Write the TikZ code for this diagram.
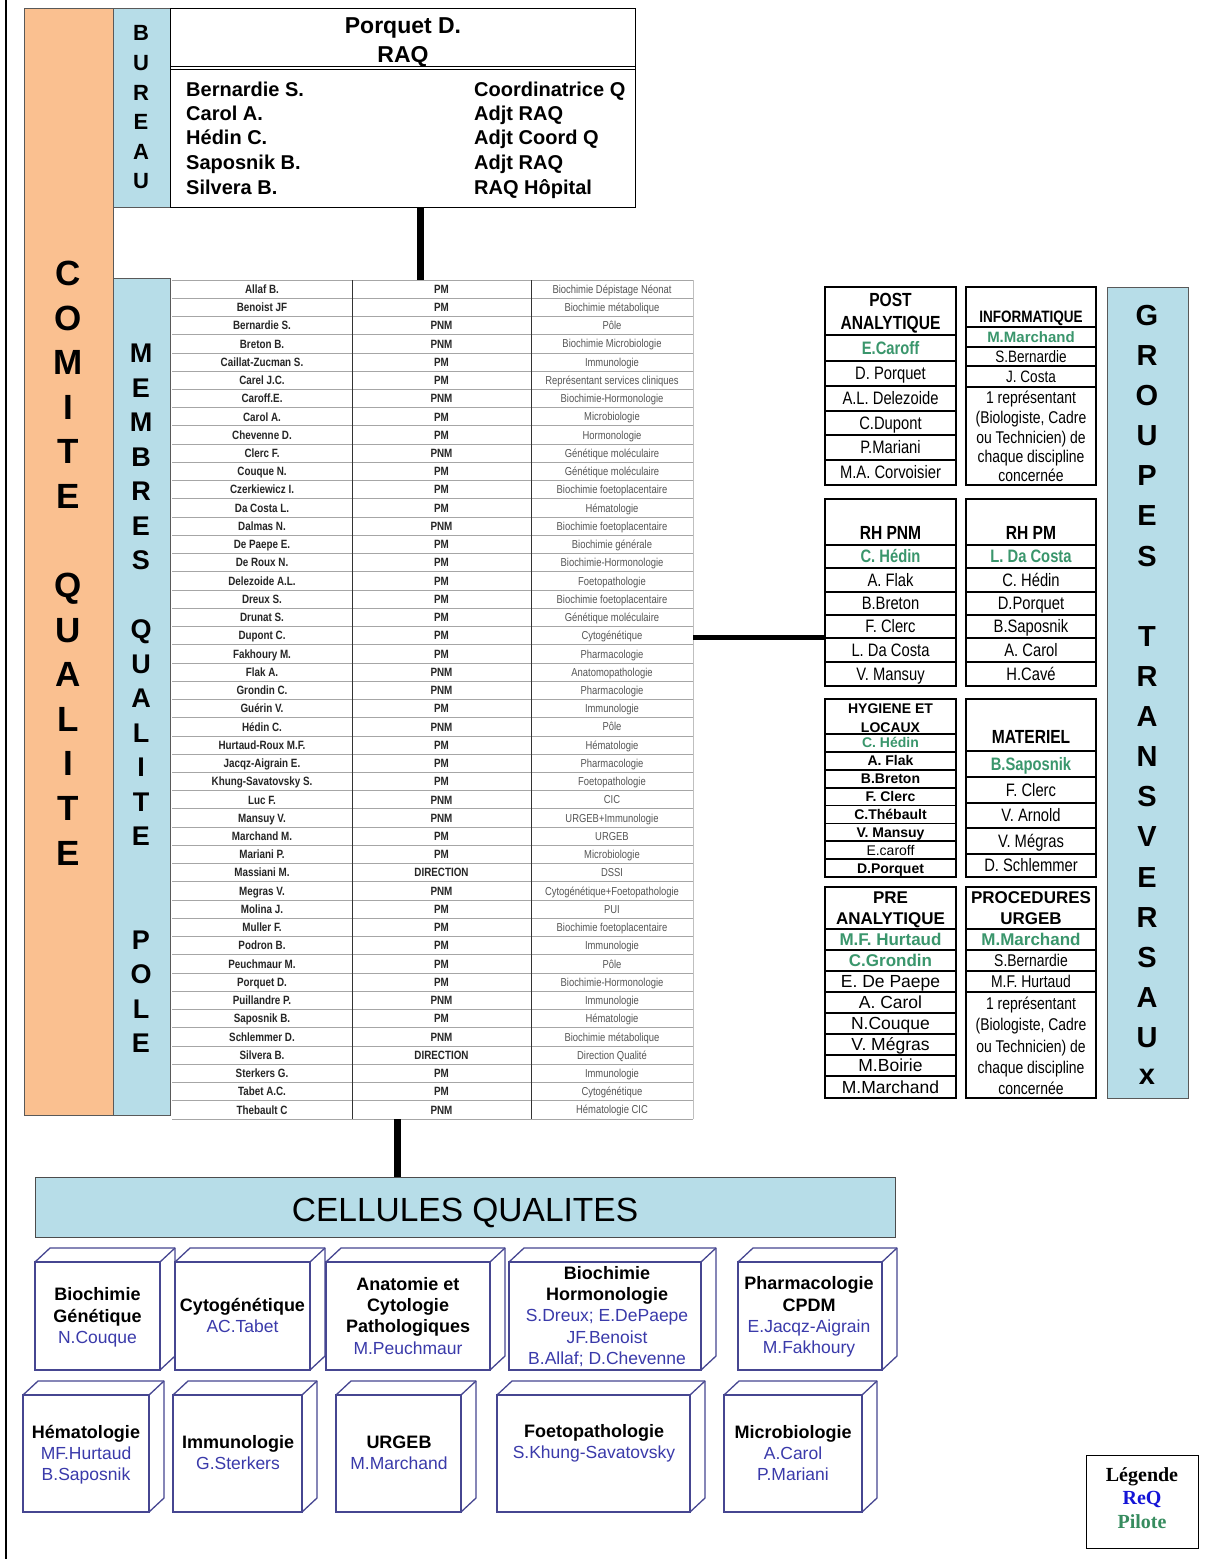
\documentclass[tikz,border=0pt]{standalone}
\usepackage{fontspec}
\setmainfont{Liberation Sans}
\newfontfamily\narrowf[FakeStretch=0.82]{Liberation Sans}
\newfontfamily\legf{Liberation Serif}
\usetikzlibrary{calc}
\definecolor{orangebar}{RGB}{250,192,144}
\definecolor{bluebar}{RGB}{183,221,232}
\definecolor{pilote}{RGB}{58,150,108}
\definecolor{reqc}{RGB}{58,58,170}
\definecolor{cubeline}{RGB}{70,70,145}
\definecolor{legblue}{RGB}{20,20,215}
\definecolor{leggreen}{RGB}{55,140,95}
\definecolor{tabgray}{RGB}{85,85,85}
\newcommand\FS[1]{\fontsize{#1}{#1}\selectfont}
\newcommand\grow[7]{\draw[rowl] (#2,#4) rectangle (#3,#5); \node[#6] (#1) at ({(#2+#3)/2},{(#4+#5)/2}) {#7};}
\newcommand\cube[5]{%
  \draw[cubeline, line width=1.3pt, fill=white, line join=round] (#2,#4) -- ++(15,-14) -- ({#3+15},{#4-14}) -- ({#3+15},{#5-14}) -- (#3,#5) -- (#3,#4) -- cycle;
  \draw[cubeline, line width=1.3pt] (#3,#4) -- ++(15,-14);
  \node[box, draw=cubeline, line width=1.3pt, fill=white, minimum width={#3-#2}, minimum height={#5-#4}] (#1) at (#2,#4) {};}
\tikzset{
 box/.style={anchor=north west, inner sep=0pt, outer sep=0pt},
 conn/.style={line width=7pt},
 conn2/.style={line width=5pt},
 outl/.style={line width=2.6pt},
 rowl/.style={line width=1.8pt},
 vC/.style={anchor=base, inner sep=0pt, yshift=-12.5pt, font=\FS{35}\bfseries},
 vB/.style={anchor=base, inner sep=0pt, yshift=-7.9pt, font=\FS{22}\bfseries},
 vM/.style={anchor=base, inner sep=0pt, yshift=-9.6pt, font=\FS{27}\bfseries},
 vG/.style={anchor=base, inner sep=0pt, yshift=-10.4pt, font=\FS{29}\bfseries},
 bhead/.style={anchor=base, inner sep=0pt, yshift=-8.2pt, font=\FS{23}\bfseries},
 bname/.style={anchor=base west, inner sep=0pt, yshift=-7.2pt, font=\FS{20}\bfseries},
 tc1/.style={anchor=base, inner sep=0pt, yshift=-4.2pt, font=\narrowf\FS{12}\bfseries, text=black!85},
 tc3/.style={anchor=base, inner sep=0pt, yshift=-4.1pt, font=\narrowf\FS{11.5}, text=tabgray},
 gh/.style={anchor=base, inner sep=0pt, yshift=-6.8pt, font=\narrowf\FS{19}\bfseries},
 ghs/.style={anchor=base, inner sep=0pt, yshift=-6pt, font=\narrowf\FS{16.5}\bfseries},
 gn/.style={anchor=base, inner sep=0pt, yshift=-6.4pt, font=\narrowf\FS{18}},
 gp/.style={anchor=base, inner sep=0pt, yshift=-6.4pt, font=\narrowf\FS{18}\bfseries, text=pilote},
 gs/.style={anchor=base, inner sep=0pt, yshift=-5.8pt, font=\narrowf\FS{16.5}},
 gsp/.style={anchor=base, inner sep=0pt, yshift=-5.5pt, font=\FS{15}\bfseries, text=pilote},
 gm/.style={anchor=base, inner sep=0pt, yshift=-6.1pt, font=\narrowf\FS{17}},
 hy/.style={anchor=base, inner sep=0pt, yshift=-5pt, font=\FS{14}\bfseries},
 hyp/.style={hy, text=pilote},
 hyr/.style={anchor=base, inner sep=0pt, yshift=-5pt, font=\FS{14}},
 ph/.style={anchor=base, inner sep=0pt, yshift=-6.1pt, font=\FS{17}\bfseries},
 pp/.style={ph, text=pilote},
 pn/.style={anchor=base, inner sep=0pt, yshift=-6.3pt, font=\FS{17.5}},
 ct/.style={anchor=base, inner sep=0pt, yshift=-6.4pt, font=\FS{18}\bfseries},
 cn/.style={anchor=base, inner sep=0pt, yshift=-6.3pt, font=\FS{17.5}, text=reqc},
 lg/.style={anchor=base, inner sep=0pt, yshift=-6.6pt, font=\legf\FS{20}\bfseries},
}
\begin{document}
\begin{tikzpicture}[x=1pt,y=-1pt]
\useasboundingbox (0,0) rectangle (1220,1559);
\fill[white] (0,0) rectangle (1220,1559);
% outer left line
\draw[line width=1.8pt] (6,0) -- (6,1559);

% side bars
\node[box, draw=gray!70!black, fill=orangebar, minimum width=89, minimum height=1107] (comite) at (24,8) {};
\node[box, draw=gray!70!black, fill=bluebar, minimum width=57, minimum height=199] (bureaubar) at (113,8) {};
\node[box, draw=gray!70!black, fill=bluebar, minimum width=57, minimum height=837] (membresbar) at (113,278) {};
\node[box, draw=gray!70!black, fill=bluebar, minimum width=81, minimum height=811] (groupesbar) at (1107,287) {};

\foreach \l [count=\i from 0] in {C,O,M,I,T,E} \node[vC] (cqa\i) at (68,{273+\i*44.6}) {\l};
\foreach \l [count=\i from 0] in {Q,U,A,L,I,T,E} \node[vC] (cqb\i) at (68,{585+\i*44.6}) {\l};
\foreach \l [count=\i from 0] in {B,U,R,E,A,U} \node[vB] (bu\i) at (141,{33+\i*29.6}) {\l};
\foreach \l [count=\i from 0] in {M,E,M,B,R,E,S} \node[vM] (mqa\i) at (141,{353+\i*34.5}) {\l};
\foreach \l [count=\i from 0] in {Q,U,A,L,I,T,E} \node[vM] (mqb\i) at (141,{629+\i*34.5}) {\l};
\foreach \l [count=\i from 0] in {P,O,L,E} \node[vM] (mqc\i) at (141,{939.5+\i*34.5}) {\l};
\foreach \l [count=\i from 0] in {G,R,O,U,P,E,S} \node[vG] (gta\i) at (1147,{315+\i*40.1}) {\l};
\foreach \l [count=\i from 0] in {T,R,A,N,S,V,E,R,S,A,U} \node[vG] (gtb\i) at (1147,{636+\i*40.1}) {\l};
\node[vG, yshift=3pt] (gtx) at (1147,1077) {x};

% bureau
\node[box, draw, line width=0.9pt, minimum width=465, minimum height=199] (bureau) at (170,8) {};
\draw[line width=0.9pt] (170,66) -- (635,66);
\draw[line width=0.9pt] (170,69) -- (635,69);
\node[bhead] (raq1) at (403,25) {Porquet D.};
\node[bhead] (raq2) at (403,54) {RAQ};
\node[bname] (bn1) at (186,89) {Bernardie S.};
\node[bname] (bn2) at (186,113) {Carol A.};
\node[bname] (bn3) at (186,137) {Hédin C.};
\node[bname] (bn4) at (186,162) {Saposnik B.};
\node[bname] (bn5) at (186,187) {Silvera B.};
\node[bname] (br1) at (474,89) {Coordinatrice Q};
\node[bname] (br2) at (474,113) {Adjt RAQ};
\node[bname] (br3) at (474,137) {Adjt Coord Q};
\node[bname] (br4) at (474,162) {Adjt RAQ};
\node[bname] (br5) at (474,187) {RAQ Hôpital};

% table
\node[box, minimum width=521, minimum height=839] (tbl) at (172,280) {};
\foreach \i in {0,...,46} \draw[gray!70, line width=0.9pt] (172,{280+\i*18.239}) -- (693,{280+\i*18.239});
\draw[black!80, line width=0.9pt] (352,280) -- (352,1119);
\draw[black!80, line width=0.9pt] (531,280) -- (531,1119);
\draw[gray!50, line width=0.6pt] (693,280) -- (693,1119);
\foreach \na/\ca/\de [count=\i from 0] in {
Allaf B./PM/Biochimie Dépistage Néonat,
Benoist JF/PM/Biochimie métabolique,
Bernardie S./PNM/Pôle,
Breton B./PNM/Biochimie Microbiologie,
Caillat-Zucman S./PM/Immunologie,
Carel J.C./PM/Représentant services cliniques,
Caroff.E./PNM/Biochimie-Hormonologie,
Carol A./PM/Microbiologie,
Chevenne D./PM/Hormonologie,
Clerc F./PNM/Génétique moléculaire,
Couque N./PM/Génétique moléculaire,
Czerkiewicz I./PM/Biochimie foetoplacentaire,
Da Costa L./PM/Hématologie,
Dalmas N./PNM/Biochimie foetoplacentaire,
De Paepe E./PM/Biochimie générale,
De Roux N./PM/Biochimie-Hormonologie,
Delezoide A.L./PM/Foetopathologie,
Dreux S./PM/Biochimie foetoplacentaire,
Drunat S./PM/Génétique moléculaire,
Dupont C./PM/Cytogénétique,
Fakhoury M./PM/Pharmacologie,
Flak A./PNM/Anatomopathologie,
Grondin C./PNM/Pharmacologie,
Guérin V./PM/Immunologie,
Hédin C./PNM/Pôle,
Hurtaud-Roux M.F./PM/Hématologie,
Jacqz-Aigrain E./PM/Pharmacologie,
Khung-Savatovsky S./PM/Foetopathologie,
Luc F./PNM/CIC,
Mansuy V./PNM/URGEB+Immunologie,
Marchand M./PM/URGEB,
Mariani P./PM/Microbiologie,
Massiani M./DIRECTION/DSSI,
Megras V./PNM/Cytogénétique+Foetopathologie,
Molina J./PM/PUI,
Muller F./PM/Biochimie foetoplacentaire,
Podron B./PM/Immunologie,
Peuchmaur M./PM/Pôle,
Porquet D./PM/Biochimie-Hormonologie,
Puillandre P./PNM/Immunologie,
Saposnik B./PM/Hématologie,
Schlemmer D./PNM/Biochimie métabolique,
Silvera B./DIRECTION/Direction Qualité,
Sterkers G./PM/Immunologie,
Tabet A.C./PM/Cytogénétique,
Thebault C/PNM/Hématologie CIC}{
  \pgfmathsetmacro\yc{280+(\i+0.5)*18.239}
  \node[tc1] (ta\i) at (262,\yc) {\na};
  \node[tc1] (tb\i) at (441.5,\yc) {\ca};
  \node[tc3] (tc\i) at (612,\yc) {\de};
}

% connectors
\coordinate (gin) at (825,637);
\node[box, draw=gray!60!black, line width=1pt, fill=bluebar, minimum width=860, minimum height=60] (cell) at (35,1177) {};
\node[anchor=base, inner sep=0pt, yshift=-12pt, font=\FS{33.5}] (celltxt) at (465,1209) {CELLULES QUALITES};
\draw[conn] ([xshift=17.5pt]bureau.south) -- ([xshift=17.5pt]bureau.south |- tbl.north);
\draw[conn2] (tbl.east |- gin) -- (gin);
\draw[conn] ([xshift=-35.5pt]tbl.south) -- ([xshift=-35.5pt]tbl.south |- cell.north);

% POST ANALYTIQUE
\draw[rowl] (825,287) rectangle (956,335);
\node[gh] (postA) at (890.5,300) {POST};
\node[gh] (postB) at (890.5,323) {ANALYTIQUE};
\grow{post1}{825}{956}{335}{361}{gp}{E.Caroff}
\grow{post2}{825}{956}{361}{386}{gn}{D. Porquet}
\grow{post3}{825}{956}{386}{411}{gn}{A.L. Delezoide}
\grow{post4}{825}{956}{411}{435}{gn}{C.Dupont}
\grow{post5}{825}{956}{435}{460}{gn}{P.Mariani}
\grow{post6}{825}{956}{460}{485}{gn}{M.A. Corvoisier}
\draw[outl] (825,287) rectangle (956,485);

% INFORMATIQUE
\draw[rowl] (966,287) rectangle (1096,327);
\node[ghs] (infoA) at (1031,316) {INFORMATIQUE};
\grow{info1}{966}{1096}{327}{347}{gsp}{M.Marchand}
\grow{info2}{966}{1096}{347}{366}{gs}{S.Bernardie}
\grow{info3}{966}{1096}{366}{387}{gs}{J. Costa}
\draw[rowl] (966,387) rectangle (1096,485);
\node[gm] (info4a) at (1031,397) {1 représentant};
\node[gm] (info4b) at (1031,417) {(Biologiste, Cadre};
\node[gm] (info4c) at (1031,437) {ou Technicien) de};
\node[gm] (info4d) at (1031,456) {chaque discipline};
\node[gm] (info4e) at (1031,475) {concernée};
\draw[outl] (966,287) rectangle (1096,485);

% RH PNM
\draw[rowl] (825,499) rectangle (956,545);
\node[gh] (rhpnmA) at (890.5,533) {RH PNM};
\grow{rhpnm1}{825}{956}{545}{568}{gp}{C. Hédin}
\grow{rhpnm2}{825}{956}{568}{592}{gn}{A. Flak}
\grow{rhpnm3}{825}{956}{592}{615}{gn}{B.Breton}
\grow{rhpnm4}{825}{956}{615}{638}{gn}{F. Clerc}
\grow{rhpnm5}{825}{956}{638}{662}{gn}{L. Da Costa}
\grow{rhpnm6}{825}{956}{662}{686}{gn}{V. Mansuy}
\draw[outl] (825,499) rectangle (956,686);

% RH PM
\draw[rowl] (966,499) rectangle (1096,545);
\node[gh] (rhpmA) at (1031,533) {RH PM};
\grow{rhpm1}{966}{1096}{545}{568}{gp}{L. Da Costa}
\grow{rhpm2}{966}{1096}{568}{592}{gn}{C. Hédin}
\grow{rhpm3}{966}{1096}{592}{615}{gn}{D.Porquet}
\grow{rhpm4}{966}{1096}{615}{638}{gn}{B.Saposnik}
\grow{rhpm5}{966}{1096}{638}{662}{gn}{A. Carol}
\grow{rhpm6}{966}{1096}{662}{686}{gn}{H.Cavé}
\draw[outl] (966,499) rectangle (1096,686);

% HYGIENE ET LOCAUX
\draw[rowl] (825,699) rectangle (956,734);
\node[hy] (hygA) at (890.5,708) {HYGIENE ET};
\node[hy] (hygB) at (890.5,727) {LOCAUX};
\grow{hyg1}{825}{956}{734}{751.9}{hyp}{C. Hédin}
\grow{hyg2}{825}{956}{751.9}{769.8}{hy}{A. Flak}
\grow{hyg3}{825}{956}{769.8}{787.6}{hy}{B.Breton}
\grow{hyg4}{825}{956}{787.6}{805.5}{hy}{F. Clerc}
\grow{hyg5}{825}{956}{805.5}{823.4}{hy}{C.Thébault}
\grow{hyg6}{825}{956}{823.4}{841.3}{hy}{V. Mansuy}
\grow{hyg7}{825}{956}{841.3}{859.1}{hyr}{E.caroff}
\grow{hyg8}{825}{956}{859.1}{877}{hy}{D.Porquet}
\draw[outl] (825,699) rectangle (956,877);

% MATERIEL
\draw[rowl] (966,699) rectangle (1096,751);
\node[gh] (matA) at (1031,737) {MATERIEL};
\grow{mat1}{966}{1096}{751}{777}{gp}{B.Saposnik}
\grow{mat2}{966}{1096}{777}{803}{gn}{F. Clerc}
\grow{mat3}{966}{1096}{803}{828}{gn}{V. Arnold}
\grow{mat4}{966}{1096}{828}{854}{gn}{V. Mégras}
\grow{mat5}{966}{1096}{854}{877}{gn}{D. Schlemmer}
\draw[outl] (966,699) rectangle (1096,877);

% PRE ANALYTIQUE
\draw[rowl] (825,887) rectangle (956,929);
\node[ph] (preA) at (890.5,897) {PRE};
\node[ph] (preB) at (890.5,918) {ANALYTIQUE};
\grow{pre1}{825}{956}{929}{950}{pp}{M.F. Hurtaud}
\grow{pre2}{825}{956}{950}{971}{pp}{C.Grondin}
\grow{pre3}{825}{956}{971}{992}{pn}{E. De Paepe}
\grow{pre4}{825}{956}{992}{1013}{pn}{A. Carol}
\grow{pre5}{825}{956}{1013}{1034}{pn}{N.Couque}
\grow{pre6}{825}{956}{1034}{1055}{pn}{V. Mégras}
\grow{pre7}{825}{956}{1055}{1076}{pn}{M.Boirie}
\grow{pre8}{825}{956}{1076}{1098}{pn}{M.Marchand}
\draw[outl] (825,887) rectangle (956,1098);

% PROCEDURES URGEB
\draw[rowl] (966,887) rectangle (1096,929);
\node[ph] (procA) at (1031,897) {PROCEDURES};
\node[ph] (procB) at (1031,918) {URGEB};
\grow{proc1}{966}{1096}{929}{950}{pp}{M.Marchand}
\grow{proc2}{966}{1096}{950}{971}{gm}{S.Bernardie}
\grow{proc3}{966}{1096}{971}{992}{gm}{M.F. Hurtaud}
\draw[rowl] (966,992) rectangle (1096,1098);
\node[gm] (proc4a) at (1031,1003) {1 représentant};
\node[gm] (proc4b) at (1031,1024) {(Biologiste, Cadre};
\node[gm] (proc4c) at (1031,1046) {ou Technicien) de};
\node[gm] (proc4d) at (1031,1067) {chaque discipline};
\node[gm] (proc4e) at (1031,1088) {concernée};
\draw[outl] (966,887) rectangle (1096,1098);

% cubes row 1
\cube{cA}{35}{160}{1262}{1370}
\node[ct] (cA1) at (97.5,1294) {Biochimie};
\node[ct] (cA2) at (97.5,1316) {Génétique};
\node[cn] (cA3) at (97.5,1337) {N.Couque};
\cube{cB}{175}{310}{1262}{1370}
\node[ct] (cB1) at (242.5,1305) {Cytogénétique};
\node[cn] (cB2) at (242.5,1326) {AC.Tabet};
\cube{cC}{326}{490}{1262}{1370}
\node[ct] (cC1) at (408,1284) {Anatomie et};
\node[ct] (cC2) at (408,1305) {Cytologie};
\node[ct] (cC3) at (408,1326) {Pathologiques};
\node[cn] (cC4) at (408,1348) {M.Peuchmaur};
\cube{cD}{509}{701}{1262}{1370}
\node[ct] (cD1) at (607,1273) {Biochimie};
\node[ct] (cD2) at (607,1294) {Hormonologie};
\node[cn] (cD3) at (607,1315) {S.Dreux; E.DePaepe};
\node[cn] (cD4) at (607,1337) {JF.Benoist};
\node[cn] (cD5) at (607,1358) {B.Allaf; D.Chevenne};
\cube{cE}{738}{882}{1262}{1370}
\node[ct] (cE1) at (809,1283) {Pharmacologie};
\node[ct] (cE2) at (809,1305) {CPDM};
\node[cn] (cE3) at (809,1326) {E.Jacqz-Aigrain};
\node[cn] (cE4) at (809,1347) {M.Fakhoury};

% cubes row 2
\cube{cF}{23}{149}{1395}{1512}
\node[ct] (cF1) at (86,1432) {Hématologie};
\node[cn] (cF2) at (86,1453) {MF.Hurtaud};
\node[cn] (cF3) at (86,1474) {B.Saposnik};
\cube{cG}{173}{302}{1395}{1512}
\node[ct] (cG1) at (238,1442) {Immunologie};
\node[cn] (cG2) at (238,1463) {G.Sterkers};
\cube{cH}{336}{461}{1395}{1512}
\node[ct] (cH1) at (399,1442) {URGEB};
\node[cn] (cH2) at (399,1463) {M.Marchand};
\cube{cI}{497}{690}{1395}{1512}
\node[ct] (cI1) at (594,1431) {Foetopathologie};
\node[cn] (cI2) at (594,1452) {S.Khung-Savatovsky};
\cube{cJ}{724}{862}{1395}{1512}
\node[ct] (cJ1) at (793,1432) {Microbiologie};
\node[cn] (cJ2) at (793,1453) {A.Carol};
\node[cn] (cJ3) at (793,1474) {P.Mariani};

% legend
\node[box, draw, line width=0.9pt, minimum width=112, minimum height=93] (leg) at (1086,1455) {};
\node[lg] (leg1) at (1142,1475) {Légende};
\node[lg, text=legblue] (leg2) at (1142,1498) {ReQ};
\node[lg, text=leggreen] (leg3) at (1142,1522) {Pilote};
\end{tikzpicture}
\end{document}
